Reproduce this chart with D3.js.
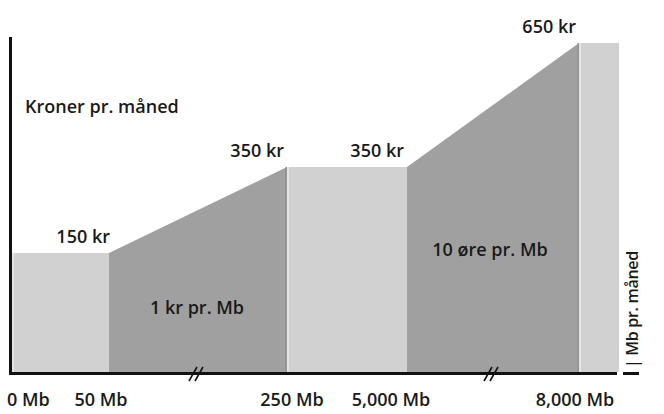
<!DOCTYPE html>
<html><head><meta charset="utf-8">
<script src="https://cdn.jsdelivr.net/npm/d3@7"></script>
<style>
html,body{margin:0;padding:0;background:#fff;}
text{font-family:"Open Sans","DejaVu Sans",sans-serif;fill:#1a1a1a;font-weight:600;}
</style></head>
<body>
<svg id="c" width="664" height="414"></svg>
<script>
// Data
const breakpointsMb = [0, 50, 250, 5000, 8000, 9000];
const pricesKr = [150, 150, 350, 350, 650, 650];
const segmentShade = ["light", "dark", "light", "dark", "light"];
const tickLabels = ["0 Mb", "50 Mb", "250 Mb", "5,000 Mb", "8,000 Mb"];
const priceLabels = ["150 kr", "350 kr", "350 kr", "650 kr"];
const priceLabelAt = [50, 250, 5000, 8000];
const rateLabels = ["1 kr pr. Mb", "10 øre pr. Mb"];
const rateSegments = [1, 3];
const yTitle = "Kroner pr. måned";
const xTitle = "| Mb pr. måned";

const svg = d3.select("#c");
// piecewise (broken) scales
const x = d3.scaleLinear().domain(breakpointsMb).range([12, 109, 287, 407, 579, 619]);
const y = d3.scaleLinear().domain([0, 150, 350, 650]).range([372, 253, 167, 43]);

const colors = {light: "#d1d1d1", dark: "#a0a0a0"};
const edge = {light: "#e4e4e4", dark: "#8e8e8e"};

const segs = segmentShade.map((s, i) => ({
  shade: s, x0: breakpointsMb[i], x1: breakpointsMb[i+1], v0: pricesKr[i], v1: pricesKr[i+1]
}));

const area = d3.area().x(d => x(d[0])).y0(y(0)).y1(d => y(d[1]));
svg.selectAll("path.seg").data(segs).join("path")
  .attr("class", "seg")
  .attr("d", d => area([[d.x0, d.v0], [d.x1, d.v1]]))
  .attr("fill", d => colors[d.shade]);

// subtle edges
svg.selectAll("line.edge").data(segs.filter(d => d.shade === "light")).join("line")
  .attr("x1", d => x(d.x0) + 1).attr("x2", d => x(d.x0) + 1)
  .attr("y1", d => y(d.v0)).attr("y2", y(0))
  .attr("stroke", edge.light).attr("stroke-width", 2);
svg.selectAll("line.edgeR").data(segs.filter(d => d.shade === "dark")).join("line")
  .attr("x1", d => x(d.x1) - 1).attr("x2", d => x(d.x1) - 1)
  .attr("y1", d => y(d.v1)).attr("y2", y(0))
  .attr("stroke", edge.dark).attr("stroke-width", 2).attr("opacity", 0.6);

// axes
svg.append("line").attr("x1", 10.5).attr("x2", 10.5).attr("y1", 37).attr("y2", 375)
  .attr("stroke", "#111").attr("stroke-width", 3);
svg.append("line").attr("x1", 9).attr("x2", x(9000) - 2).attr("y1", 373.5).attr("y2", 373.5)
  .attr("stroke", "#111").attr("stroke-width", 3);
svg.append("line").attr("x1", 623).attr("x2", 639).attr("y1", 373.5).attr("y2", 373.5)
  .attr("stroke", "#111").attr("stroke-width", 3);

// axis breaks "//"
rateSegments.forEach(i => {
  const cx = (x(breakpointsMb[i]) + x(breakpointsMb[i+1])) / 2 - 2;
  [-3, 3].forEach(o => {
    svg.append("line").attr("x1", cx + o - 4).attr("y1", 381).attr("x2", cx + o + 4).attr("y2", 367)
      .attr("stroke", "#111").attr("stroke-width", 1.6);
  });
});

const FS = 18;
// tick labels
const tickOffsets = [0, -8, 5, -16, -4];
svg.selectAll("text.tick").data(tickLabels).join("text")
  .attr("class", "tick")
  .attr("x", (d, i) => i === 0 ? 7 : x(breakpointsMb[i]) + tickOffsets[i])
  .attr("y", 406)
  .attr("text-anchor", (d, i) => i === 0 ? "start" : "middle")
  .attr("font-size", FS)
  .text(d => d);

// price labels
svg.selectAll("text.price").data(priceLabels).join("text")
  .attr("class", "price")
  .attr("x", (d, i) => x(priceLabelAt[i]) - (i === 0 ? -1 : 3))
  .attr("y", (d, i) => y(pricesKr[breakpointsMb.indexOf(priceLabelAt[i])]) - 10)
  .attr("text-anchor", "end")
  .attr("font-size", FS)
  .text(d => d);

// rate labels
const rateY = [308, 250];
rateLabels.forEach((t, k) => {
  const i = rateSegments[k];
  svg.append("text")
    .attr("x", (x(breakpointsMb[i]) + x(breakpointsMb[i+1])) / 2 - (k === 0 ? 1 : 3))
    .attr("y", rateY[k] + 6)
    .attr("text-anchor", "middle")
    .attr("font-size", FS)
    .text(t);
});

// titles
svg.append("text").attr("x", 25).attr("y", 113)
  .attr("font-size", FS).text(yTitle);
svg.append("text")
  .attr("transform", "translate(638,368) rotate(-90)")
  .attr("font-size", 16).attr("letter-spacing", -0.3).text(xTitle);
</script>
</body></html>
